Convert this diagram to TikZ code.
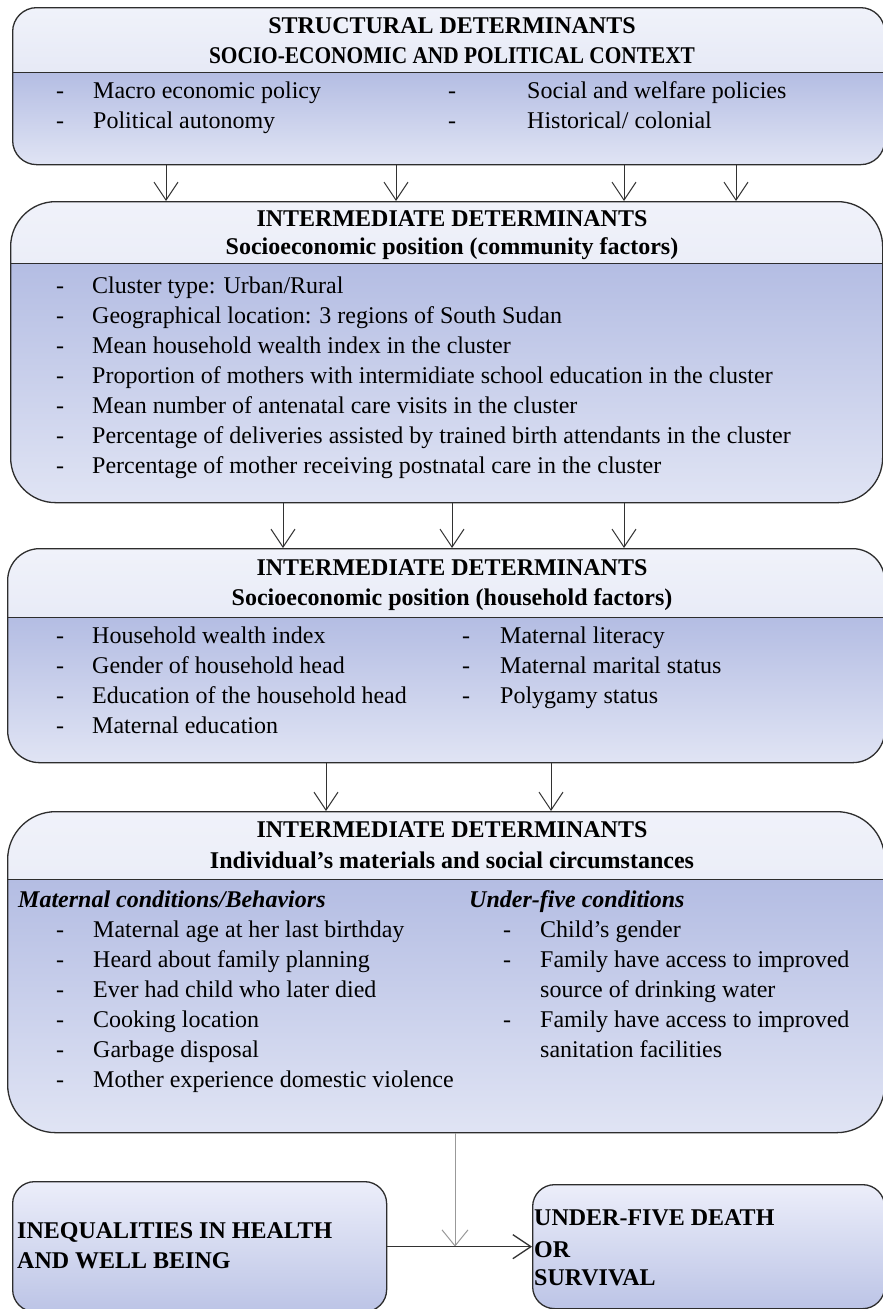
\documentclass[tikz,border=0pt]{standalone}
\usepackage{fontspec}
\setmainfont{Liberation Serif}
\usetikzlibrary{arrows.meta}

\definecolor{hdtop}{RGB}{240,242,250}
\definecolor{hdbot}{RGB}{216,221,240}
\definecolor{bdtop}{RGB}{180,189,227}
\definecolor{bdbot}{RGB}{224,228,244}
\definecolor{obtop}{RGB}{236,238,250}
\definecolor{obbot}{RGB}{188,196,230}
\definecolor{boxline}{RGB}{45,45,45}
\definecolor{arrline}{RGB}{50,50,50}

\tikzset{
  detbox/.style={draw=boxline, line width=1.3pt, anchor=north west, inner sep=0pt,
    path picture={
      \shade[sharp corners, top color=hdtop, bottom color=hdbot] (path picture bounding box.north west) rectangle ([yshift=-#1]path picture bounding box.north east);
      \shade[sharp corners, top color=bdtop, bottom color=bdbot] ([yshift=-#1]path picture bounding box.north west) rectangle (path picture bounding box.south east);
      \draw[boxline, line width=1.3pt] ([yshift=-#1]path picture bounding box.north west) -- ([yshift=-#1]path picture bounding box.north east);
    }},
  outbox/.style={draw=boxline, line width=1.3pt, anchor=north west, inner sep=0pt,
    rounded corners=22pt, top color=obtop, bottom color=obbot},
  head/.style={anchor=base, inner sep=0pt, font=\bfseries\fontsize{24}{28}\selectfont},
  subhead/.style={anchor=base west, inner sep=0pt, font=\bfseries\itshape\fontsize{24}{28}\selectfont},
  item/.style={anchor=base west, inner sep=0pt, font=\fontsize{24}{30}\selectfont},
  itemdash/.style={anchor=base, inner sep=0pt, font=\fontsize{24}{30}\selectfont},
  arr/.style={draw=arrline, line width=1pt, -{Straight Barb[length=18pt,width=24pt]}},
}

\begin{document}
\begin{tikzpicture}[x=1pt, y=-1pt]
\useasboundingbox (0,0) rectangle (883,1309);
\fill[white] (0,0) rectangle (883,1309);

% structural determinants
\node[detbox=65pt, rounded corners=24pt, minimum width=872pt, minimum height=157pt] (struct) at (12,7) {};
\node[head] (struct-h1) at (452,33) {STRUCTURAL DETERMINANTS};
\node[head] (struct-h2) at (452,63) {\scalebox{0.89}[1]{SOCIO-ECONOMIC AND POLITICAL CONTEXT}};
\foreach \txt [count=\i] in {Macro economic policy, Political autonomy} {
  \node[itemdash] (struct-d\i) at (60,{68+30*\i}) {-};
  \node[item] (struct-a\i) at (93,{68+30*\i}) {\txt};
}
\foreach \txt [count=\i] in {Social and welfare policies, Historical/ colonial} {
  \node[itemdash] (struct-e\i) at (452,{68+30*\i}) {-};
  \node[item] (struct-b\i) at (527,{68+30*\i}) {\txt};
}

% community factors
\node[detbox=62pt, rounded corners=45pt, minimum width=872pt, minimum height=301pt] (comm) at (10,201) {};
\node[head] (comm-h1) at (452,226) {INTERMEDIATE DETERMINANTS};
\node[head] (comm-h2) at (452,254) {Socioeconomic position (community factors)};
\foreach \txt [count=\i] in {Cluster type: Urban/Rural,
    Geographical location: 3 regions of South Sudan,
    Mean household wealth index in the cluster,
    Proportion of mothers with intermidiate school education in the cluster,
    Mean number of antenatal care visits in the cluster,
    Percentage of deliveries assisted by trained birth attendants in the cluster,
    Percentage of mother receiving postnatal care in the cluster} {
  \node[itemdash] (comm-d\i) at (60,{263+30*\i}) {-};
  \node[item] (comm-a\i) at (92,{263+30*\i}) {\txt};
}

% household factors
\node[detbox=69pt, rounded corners=32pt, minimum width=877pt, minimum height=214pt] (house) at (7,548) {};
\node[head] (house-h1) at (452,575) {INTERMEDIATE DETERMINANTS};
\node[head] (house-h2) at (452,605) {Socioeconomic position (household factors)};
\foreach \txt [count=\i] in {Household wealth index, Gender of household head,
    Education of the household head, Maternal education} {
  \node[itemdash] (house-d\i) at (60,{613+30*\i}) {-};
  \node[item] (house-a\i) at (92,{613+30*\i}) {\txt};
}
\foreach \txt [count=\i] in {Maternal literacy, Maternal marital status, Polygamy status} {
  \node[itemdash] (house-e\i) at (466,{613+30*\i}) {-};
  \node[item] (house-b\i) at (500,{613+30*\i}) {\txt};
}

% individual circumstances
\node[detbox=68pt, rounded corners=48pt, minimum width=877pt, minimum height=321pt] (indiv) at (7,811) {};
\node[head] (indiv-h1) at (452,837) {INTERMEDIATE DETERMINANTS};
\node[head] (indiv-h2) at (452,868) {Individual's materials and social circumstances};
\node[subhead] (indiv-s1) at (18,907) {Maternal conditions/Behaviors};
\node[subhead] (indiv-s2) at (469,907) {Under-five conditions};
\foreach \txt [count=\i] in {Maternal age at her last birthday, Heard about family planning,
    Ever had child who later died, Cooking location, Garbage disposal,
    Mother experience domestic violence} {
  \node[itemdash] (indiv-d\i) at (60,{907+30*\i}) {-};
  \node[item] (indiv-a\i) at (93,{907+30*\i}) {\txt};
}
\foreach \txt [count=\i] in {Child's gender, Family have access to improved,
    source of drinking water, Family have access to improved, sanitation facilities} {
  \node[item] (indiv-b\i) at (540,{907+30*\i}) {\txt};
}
\foreach \i in {1,2,4}
  \node[itemdash] (indiv-e\i) at (507,{907+30*\i}) {-};

% outcome
\node[outbox, minimum width=374pt, minimum height=130pt] (ineq) at (12,1181) {};
\node[item, font=\bfseries\fontsize{24}{30}\selectfont] (ineq-t1) at (17,1238) {INEQUALITIES IN HEALTH};
\node[item, font=\bfseries\fontsize{24}{30}\selectfont] (ineq-t2) at (17,1268) {AND WELL BEING};
\node[outbox, minimum width=352pt, minimum height=124pt] (outc) at (532,1184) {};
\node[item, font=\bfseries\fontsize{24}{30}\selectfont] (outc-t1) at (534,1225) {UNDER-FIVE DEATH};
\node[item, font=\bfseries\fontsize{24}{30}\selectfont] (outc-t2) at (534,1257) {OR};
\node[item, font=\bfseries\fontsize{24}{30}\selectfont] (outc-t3) at (534,1285) {SURVIVAL};

% arrows
\foreach \x in {166,396,624,736}
  \draw[arr] (struct.south -| \x,0) -- (comm.north -| \x,0);
\foreach \x in {283,452,624}
  \draw[arr] (comm.south -| \x,0) -- (house.north -| \x,0);
\foreach \x in {326,551}
  \draw[arr] (house.south -| \x,0) -- (indiv.north -| \x,0);
\coordinate (meet) at (ineq.east -| 455,0);
\draw[arr, draw=gray!80, -{Straight Barb[length=16pt,width=26pt]}] (indiv.south -| meet) -- (meet);
\draw[arr, line width=1.3pt] (ineq.east) -- (outc.west);
\end{tikzpicture}
\end{document}
